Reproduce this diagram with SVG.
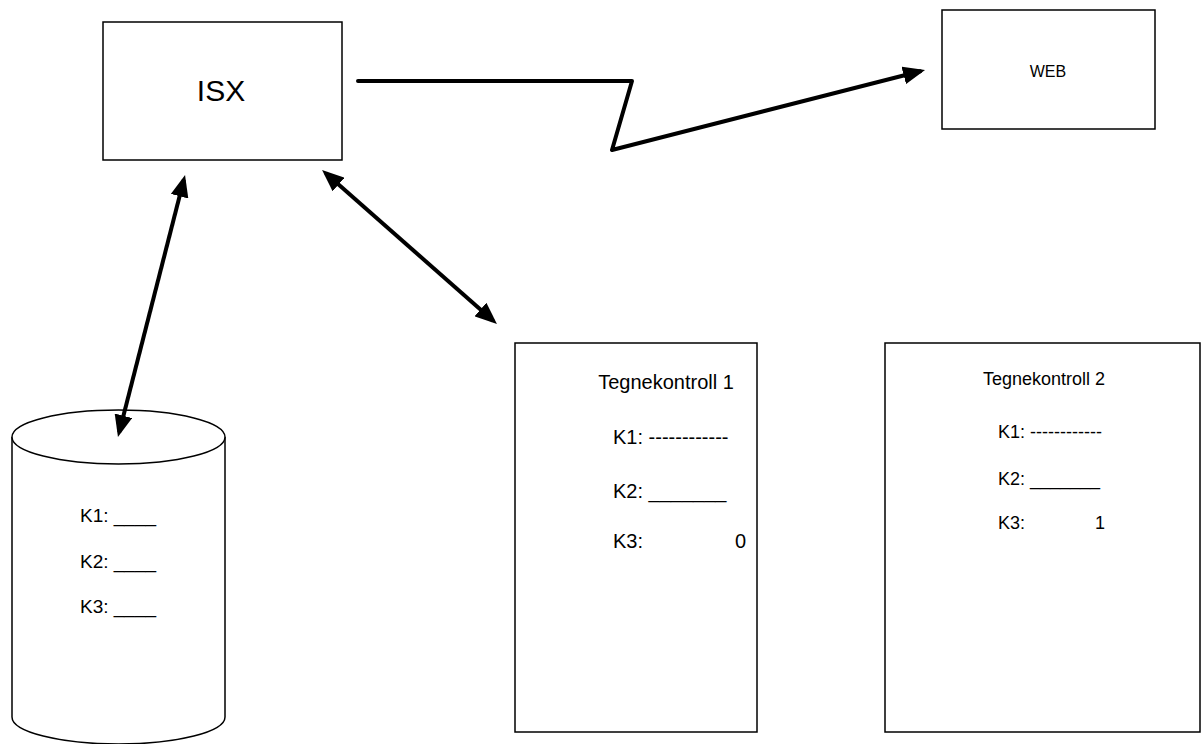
<svg xmlns="http://www.w3.org/2000/svg" width="1202" height="744" viewBox="0 0 1202 744">
  <style>
    .box { fill: #ffffff; stroke: #000000; stroke-width: 1.5; }
    .link { fill: none; stroke: #000000; stroke-width: 4; stroke-linejoin: round; }
    text { font-family: "Liberation Sans", Arial, sans-serif; fill: #000000; }
    .t20 { font-size: 20px; }
    .t19 { font-size: 19px; }
    .t18 { font-size: 18px; }
  </style>
  <defs>
    <marker id="head" viewBox="0 0 22 18" markerWidth="22" markerHeight="18" refX="17" refY="9" markerUnits="userSpaceOnUse" orient="auto-start-reverse">
      <path d="M0,0 L22,9 L0,18 z" fill="#000000"/>
    </marker>
  </defs>
  <rect width="1202" height="744" fill="#ffffff"/>

  <g id="isx">
    <rect class="box" x="103" y="22" width="239" height="138"/>
    <text x="221" y="101" font-size="30" text-anchor="middle">ISX</text>
  </g>

  <g id="web">
    <rect class="box" x="942" y="10" width="213" height="119"/>
    <text x="1048" y="77" font-size="16" text-anchor="middle">WEB</text>
  </g>

  <g id="database">
    <path class="box" d="M12,437 L12,717 A106.5,27 0 0 0 225,717 L225,437"/>
    <ellipse class="box" cx="118.5" cy="437" rx="106.5" ry="27"/>
    <text class="t19" x="80" y="522">K1: ____</text>
    <text class="t19" x="80" y="568">K2: ____</text>
    <text class="t19" x="80" y="613">K3: ____</text>
  </g>

  <g id="tegnekontroll-1">
    <rect class="box" x="515" y="343" width="242" height="389"/>
    <text class="t20" x="666" y="389" text-anchor="middle">Tegnekontroll 1</text>
    <text class="t20" x="613" y="444">K1: ------------</text>
    <text class="t20" x="613" y="498">K2: _______</text>
    <text class="t20" x="613" y="548">K3:</text>
    <text class="t20" x="735" y="548">0</text>
  </g>

  <g id="tegnekontroll-2">
    <rect class="box" x="885" y="343" width="315" height="389"/>
    <text class="t18" x="1044" y="385" text-anchor="middle">Tegnekontroll 2</text>
    <text class="t18" x="998" y="438">K1: ------------</text>
    <text class="t18" x="998" y="485">K2: _______</text>
    <text class="t18" x="998" y="529">K3:</text>
    <text class="t18" x="1095" y="529">1</text>
  </g>

  <g id="connectors">
    <polyline class="link" stroke-linecap="round" points="358,81 632,81 612,150 920.2,71.2" marker-end="url(#head)"/>
    <line class="link" x1="183.8" y1="179.8" x2="119.2" y2="432.2" marker-start="url(#head)" marker-end="url(#head)"/>
    <line class="link" x1="325.8" y1="173.3" x2="493.2" y2="320.7" marker-start="url(#head)" marker-end="url(#head)"/>
  </g>
</svg>
